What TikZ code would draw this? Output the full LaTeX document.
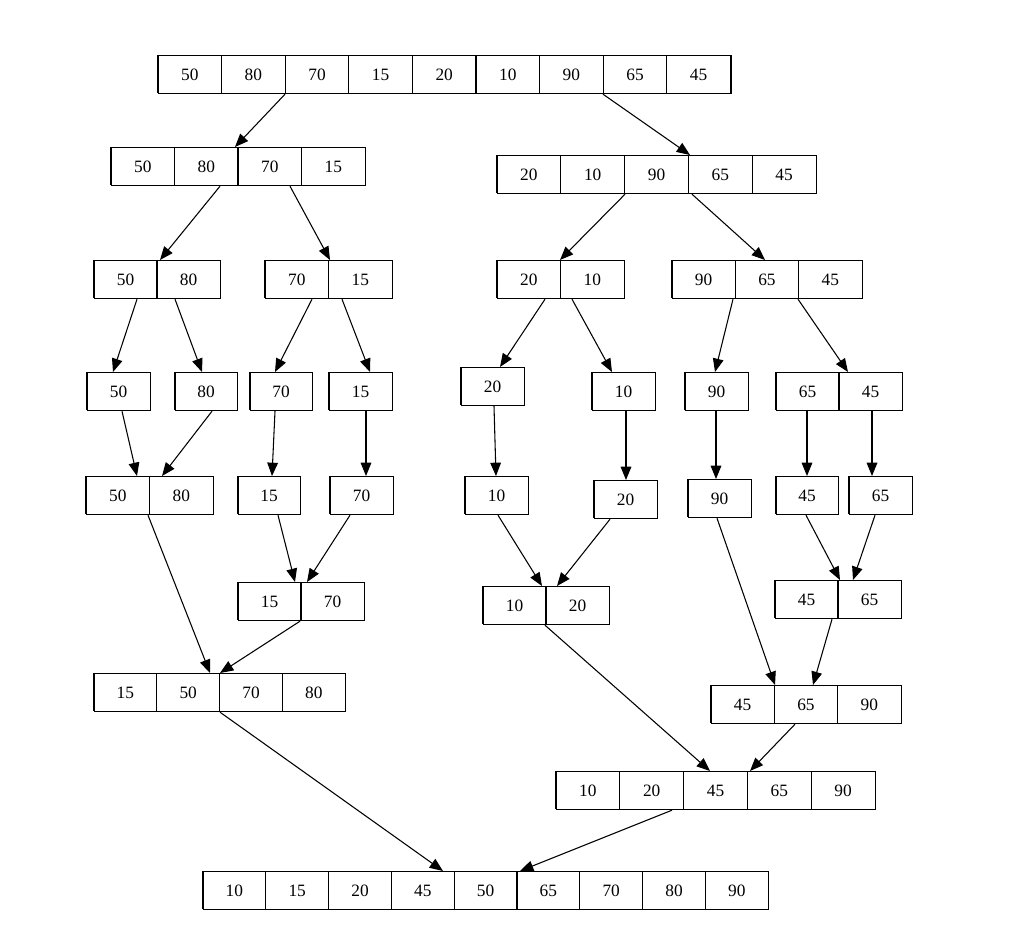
\documentclass[tikz,border=0pt]{standalone}
\usepackage{fontspec}
\setmainfont{Liberation Serif}
\usetikzlibrary{calc,arrows.meta}
\newcommand\arr[6]{%
 \node[draw,inner sep=0pt,minimum width={#4*#5*0.75pt},minimum height=28.5pt,anchor=north west,line width=0.9pt] (#1) at (#2,#3) {};
 \foreach \v [count=\i] in {#6} {
   \node[font=\fontsize{13}{15}\selectfont] at ($(#1.north west)+({(\i-0.5)*#5},20)$) {\v};
   \draw[line width=0.9pt] ($(#1.north west)+({(\i-1)*#5},0)$) -- ++(0,38);
 }}
\newcommand\ar[4]{\draw[arr] ($(#1.south west)+(#2,0)$) -- ($(#3.north west)+(#4,0)$);}
\begin{document}
\begin{tikzpicture}[x=0.75pt,y=-0.75pt,arr/.style={-{Triangle[length=10pt,width=8pt]},line width=0.8pt}]
\useasboundingbox (0,0) rectangle (1024,952);
\arr{a0}{158}{55}{9}{63.6}{50,80,70,15,20,10,90,65,45}
\arr{a1}{111}{147}{4}{63.5}{50,80,70,15}
\arr{a2}{497}{155}{5}{63.8}{20,10,90,65,45}
\arr{b1}{94}{260}{2}{63}{50,80}
\arr{b2}{265}{260}{2}{63.5}{70,15}
\arr{b3}{497}{260}{2}{63.5}{20,10}
\arr{b4}{672}{260}{3}{63.3}{90,65,45}
\arr{c1}{87}{372}{1}{63}{50}
\arr{c2}{175}{372}{1}{62}{80}
\arr{c3}{250}{372}{1}{62}{70}
\arr{c4}{329}{372}{1}{63}{15}
\arr{c5}{461}{367}{1}{63}{20}
\arr{c6}{592}{372}{1}{63}{10}
\arr{c7}{685}{372}{1}{63}{90}
\arr{c8}{776}{372}{2}{63}{65,45}
\arr{d1}{86}{476}{2}{63.5}{50,80}
\arr{d2}{238}{476}{1}{62}{15}
\arr{d3}{330}{476}{1}{63}{70}
\arr{d4}{465}{476}{1}{63}{10}
\arr{d5}{594}{480}{1}{63}{20}
\arr{d6}{688}{479}{1}{63}{90}
\arr{d7}{776}{476}{1}{62}{45}
\arr{d8}{849}{476}{1}{63}{65}
\arr{e1}{238}{582}{2}{63}{15,70}
\arr{e2}{483}{586}{2}{63}{10,20}
\arr{e3}{775}{580}{2}{63}{45,65}
\arr{f1}{94}{673}{4}{62.8}{15,50,70,80}
\arr{f2}{711}{685}{3}{63.3}{45,65,90}
\arr{g1}{556}{771}{5}{63.8}{10,20,45,65,90}
\arr{h1}{203}{871}{9}{62.8}{10,15,20,45,50,65,70,80,90}
\ar{a0}{127}{a1}{124}
\ar{a0}{445}{a2}{193}
\ar{a1}{109}{b1}{66}
\ar{a1}{179}{b2}{65}
\ar{a2}{128}{b3}{63}
\ar{a2}{195}{b4}{93}
\ar{b1}{43}{c1}{26}
\ar{b1}{81}{c2}{27}
\ar{b2}{47}{c3}{25}
\ar{b2}{77}{c4}{41}
\ar{b3}{48}{c5}{39}
\ar{b3}{75}{c6}{20}
\ar{b4}{61}{c7}{30}
\ar{b4}{126}{c8}{72}
\ar{c1}{35}{d1}{51}
\ar{c2}{37}{d1}{76}
\ar{c3}{25}{d2}{34}
\ar{c4}{37}{d3}{36}
\ar{c5}{33}{d4}{31}
\ar{c6}{34}{d5}{32}
\ar{c7}{31}{d6}{28}
\ar{c8}{31}{d7}{31}
\ar{c8}{96}{d8}{23}
\ar{d1}{62}{f1}{116}
\ar{d2}{40}{e1}{57}
\ar{d3}{20}{e1}{69}
\ar{d4}{33}{e2}{59}
\ar{d5}{16}{e2}{74}
\ar{d7}{30}{e3}{65}
\ar{d8}{26}{e3}{78}
\ar{e1}{62}{f1}{126}
\ar{e2}{62}{g1}{154}
\ar{d6}{29}{f2}{64}
\ar{e3}{57}{f2}{102}
\ar{f2}{84}{g1}{194}
\ar{f1}{126}{h1}{240}
\ar{g1}{116}{h1}{317}
\end{tikzpicture}
\end{document}
